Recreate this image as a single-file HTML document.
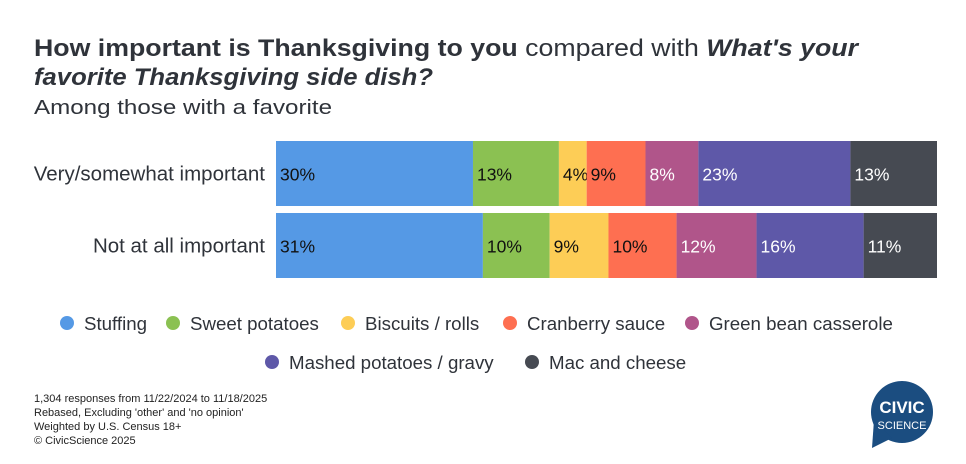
<!DOCTYPE html>
<html><head><meta charset="utf-8"><style>
body{margin:0;background:#fff;font-family:"Liberation Sans",Arial,sans-serif;}
#wrap{position:relative;width:966px;height:464px;overflow:hidden;}
</style></head><body>
<div id="wrap">
<svg id="chart" width="966" height="464">
<text x="34" y="56" font-size="24" font-weight="bold" fill="#2f333a" textLength="824" lengthAdjust="spacingAndGlyphs">How important is Thanksgiving to you <tspan font-weight="normal">compared with</tspan> <tspan font-style="italic">What's your</tspan></text>
<text x="34" y="85" font-size="24" font-weight="bold" font-style="italic" fill="#2f333a" textLength="399" lengthAdjust="spacingAndGlyphs">favorite Thanksgiving side dish?</text>
<text x="34" y="114" font-size="20" fill="#2f333a" textLength="298" lengthAdjust="spacingAndGlyphs">Among those with a favorite</text>
<g id="bars"></g>
<g id="legend"></g>
<g font-size="11" fill="#222">
<text x="34" y="402">1,304 responses from 11/22/2024 to 11/18/2025</text>
<text x="34" y="416">Rebased, Excluding 'other' and 'no opinion'</text>
<text x="34" y="430">Weighted by U.S. Census 18+</text>
<text x="34" y="444">© CivicScience 2025</text>
</g>
<g>
<circle cx="902" cy="412" r="31" fill="#1b4d80"/>
<polygon points="874,420 872,448 892,438" fill="#1b4d80"/>
<text x="902" y="413" font-size="17" font-weight="bold" fill="#fff" text-anchor="middle">CIVIC</text>
<text x="902" y="429" font-size="11" fill="#fff" text-anchor="middle">SCIENCE</text>
</g>
</svg>
</div>
<script>
const categories = ["Very/somewhat important", "Not at all important"];
const seriesNames = ["Stuffing","Sweet potatoes","Biscuits / rolls","Cranberry sauce","Green bean casserole","Mashed potatoes / gravy","Mac and cheese"];
const rowVeryImportant = [29.8, 13.0, 4.2, 8.9, 8.0, 23.0, 13.1];
const rowNotImportant = [31.3, 10.1, 8.9, 10.3, 12.1, 16.2, 11.1];
const labelsVery = ["30%","13%","4%","9%","8%","23%","13%"];
const labelsNot = ["31%","10%","9%","10%","12%","16%","11%"];
const colors = ["#5599e5","#8bc152","#fdcd56","#fe6f51","#b0558a","#5e58a8","#464a52"];
const textColors = ["#111","#111","#111","#111","#fff","#fff","#fff"];
const NS="http://www.w3.org/2000/svg";
const x0=276,x1=937;
function xScale(v){return v/100*(x1-x0);}
const rows=[rowVeryImportant,rowNotImportant];
const rowLabels=[labelsVery,labelsNot];
const rowTop=[141,213], rowH=65;
const g=document.getElementById('bars');
rows.forEach((vals,r)=>{
  const tot=vals.reduce((a,b)=>a+b,0);
  let acc=0;
  const cl=document.createElementNS(NS,'text');
  
  
  cl.setAttribute('x',265);cl.setAttribute('y',rowTop[r]+rowH/2+7);
  cl.setAttribute('text-anchor','end');cl.setAttribute('font-size','20.5');cl.setAttribute('fill','#2f333a');
  cl.textContent=categories[r];g.appendChild(cl);
  vals.forEach((v,i)=>{
    const xs=x0+xScale(acc/tot*100), w=xScale(v/tot*100);
    const rc=document.createElementNS(NS,'rect');
    
    
    rc.setAttribute('x',xs);rc.setAttribute('y',rowTop[r]);rc.setAttribute('width',w);rc.setAttribute('height',rowH);
    rc.setAttribute('fill',colors[i]);g.appendChild(rc);
    const t=document.createElementNS(NS,'text');
    
    
    t.setAttribute('x',xs+4);t.setAttribute('y',rowTop[r]+rowH/2+7);
    t.setAttribute('font-size','17.5');t.setAttribute('fill',textColors[i]);
    t.textContent=rowLabels[r][i];g.appendChild(t);
    acc+=v;
  });
});
const lg=document.getElementById('legend');
const lpos=[[67,323],[173,323],[348,323],[510,323],[692,323],[272,362],[532,362]];
seriesNames.forEach((n,i)=>{
  const c=document.createElementNS(NS,'circle');
  
  
  c.setAttribute('cx',lpos[i][0]);c.setAttribute('cy',lpos[i][1]);c.setAttribute('r',7);c.setAttribute('fill',colors[i]);
  lg.appendChild(c);
  const t=document.createElementNS(NS,'text');
  
  
  t.setAttribute('x',lpos[i][0]+17);t.setAttribute('y',lpos[i][1]+7);
  t.setAttribute('font-size','18.7');t.setAttribute('fill','#2f333a');
  t.textContent=n;lg.appendChild(t);
});
</script>
</body></html>
